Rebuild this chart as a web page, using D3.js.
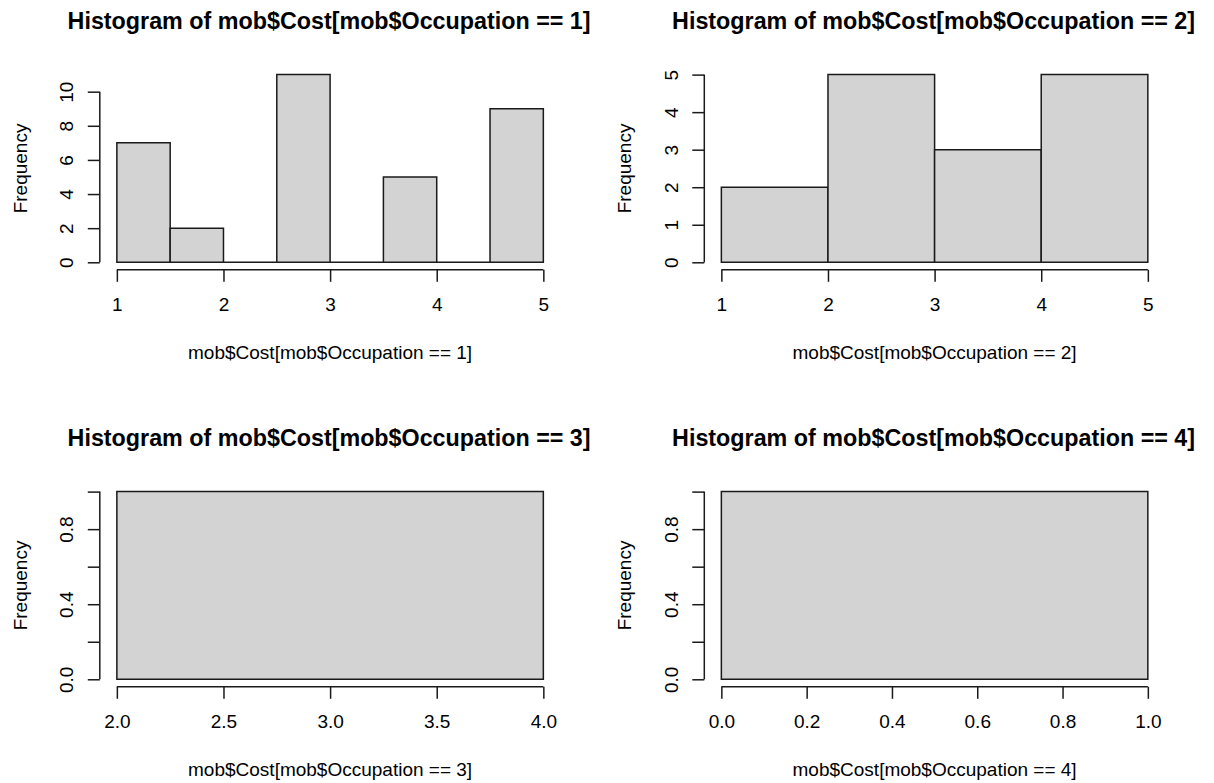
<!DOCTYPE html>
<html>
<head>
<meta charset="utf-8">
<script src="https://cdn.jsdelivr.net/npm/d3@7"></script>
<style>
  html, body { margin: 0; padding: 0; background: #fff; }
  svg { display: block; }
  text { font-family: "Liberation Sans", Arial, sans-serif; fill: #000; }
</style>
</head>
<body>
<svg id="chart" width="1214" height="783"></svg>
<script>
// Histogram bins (breaks) and counts for each occupation group
const breaks1 = [1, 1.5, 2, 2.5, 3, 3.5, 4, 4.5, 5];
const counts1 = [7, 2, 0, 11, 0, 5, 0, 9];
const xTicks1 = [1, 2, 3, 4, 5];
const yTicks1 = [0, 2, 4, 6, 8, 10];
const yLabels1 = ["0", "2", "4", "6", "8", "10"];

const breaks2 = [1, 2, 3, 4, 5];
const counts2 = [2, 5, 3, 5];
const xTicks2 = [1, 2, 3, 4, 5];
const yTicks2 = [0, 1, 2, 3, 4, 5];
const yLabels2 = ["0", "1", "2", "3", "4", "5"];

const breaks3 = [2, 4];
const counts3 = [1];
const xTicks3 = [2.0, 2.5, 3.0, 3.5, 4.0];
const xLabels3 = ["2.0", "2.5", "3.0", "3.5", "4.0"];
const yTicks3 = [0, 0.2, 0.4, 0.6, 0.8, 1.0];
const yLabels3 = ["0.0", "", "0.4", "", "0.8", ""];

const breaks4 = [0, 1];
const counts4 = [1];
const xTicks4 = [0, 0.2, 0.4, 0.6, 0.8, 1.0];
const xLabels4 = ["0.0", "0.2", "0.4", "0.6", "0.8", "1.0"];
const yTicks4 = [0, 0.2, 0.4, 0.6, 0.8, 1.0];
const yLabels4 = ["0.0", "", "0.4", "", "0.8", ""];

const titles = [
  "Histogram of mob$Cost[mob$Occupation == 1]",
  "Histogram of mob$Cost[mob$Occupation == 2]",
  "Histogram of mob$Cost[mob$Occupation == 3]",
  "Histogram of mob$Cost[mob$Occupation == 4]"
];
const xAxisLabels = [
  "mob$Cost[mob$Occupation == 1]",
  "mob$Cost[mob$Occupation == 2]",
  "mob$Cost[mob$Occupation == 3]",
  "mob$Cost[mob$Occupation == 4]"
];

const panels = [
  { breaks: breaks1, counts: counts1, xTicks: xTicks1, xLabels: xTicks1.map(String), yTicks: yTicks1, yLabels: yLabels1 },
  { breaks: breaks2, counts: counts2, xTicks: xTicks2, xLabels: xTicks2.map(String), yTicks: yTicks2, yLabels: yLabels2 },
  { breaks: breaks3, counts: counts3, xTicks: xTicks3, xLabels: xLabels3, yTicks: yTicks3, yLabels: yLabels3 },
  { breaks: breaks4, counts: counts4, xTicks: xTicks4, xLabels: xLabels4, yTicks: yTicks4, yLabels: yLabels4 }
];

// 2x2 grid layout: plot region inside each cell
const colOffset = [0, 604.5];
const rowOffset = [0, 417];
const plotBox = { left: 99.8, right: 560.4, top: 67.1, bottom: 269.8 };
const tickLen = 12;
const lineColor = "#1a1a1a";
const lineWidth = 1.5;
const labelSize = "19px";

const svg = d3.select("#chart");

// R-style axis range: extend data range by 4% on both sides
function padded(lo, hi) {
  const r = hi - lo;
  return [lo - 0.04 * r, hi + 0.04 * r];
}

panels.forEach((p, i) => {
  const ox = colOffset[i % 2], oy = rowOffset[Math.floor(i / 2)];
  const L = ox + plotBox.left, R = ox + plotBox.right;
  const T = oy + plotBox.top, B = oy + plotBox.bottom;

  const xs = d3.scaleLinear()
    .domain(padded(p.breaks[0], p.breaks[p.breaks.length - 1]))
    .range([L, R]);
  const ys = d3.scaleLinear()
    .domain(padded(0, d3.max(p.counts)))
    .range([B, T]);

  const g = svg.append("g");

  // bars (zero counts collapse to a line along the baseline)
  const bins = p.counts.map((c, k) => ({ x0: p.breaks[k], x1: p.breaks[k + 1], c }));
  g.selectAll("path.bar").data(bins).join("path")
    .attr("class", "bar")
    .attr("d", d => {
      const path = d3.path();
      path.rect(xs(d.x0), ys(d.c), xs(d.x1) - xs(d.x0), ys(0) - ys(d.c));
      return path.toString();
    })
    .attr("fill", "#d3d3d3")
    .attr("stroke", lineColor)
    .attr("stroke-width", lineWidth);

  // x axis
  const xAxis = d3.axisBottom(xs)
    .tickValues(p.xTicks)
    .tickSize(tickLen)
    .tickFormat((d, k) => p.xLabels[k]);
  const gx = g.append("g").attr("transform", `translate(0,${B})`).call(xAxis);
  gx.select(".domain").remove();
  gx.append("line")
    .attr("x1", xs(p.xTicks[0])).attr("x2", xs(p.xTicks[p.xTicks.length - 1]))
    .attr("y1", 0).attr("y2", 0)
    .attr("stroke", lineColor).attr("stroke-width", lineWidth);
  gx.selectAll(".tick line").attr("stroke", lineColor).attr("stroke-width", lineWidth);
  gx.selectAll(".tick text")
    .attr("y", 41).attr("dy", null)
    .attr("font-size", labelSize)
    .attr("font-family", "Liberation Sans, Arial, sans-serif")
    .attr("fill", "#000");

  // y axis (labels rotated, reading upward)
  const yAxis = d3.axisLeft(ys)
    .tickValues(p.yTicks)
    .tickSize(tickLen)
    .tickFormat((d, k) => p.yLabels[k]);
  const gy = g.append("g").attr("transform", `translate(${L},0)`).call(yAxis);
  gy.select(".domain").remove();
  gy.append("line")
    .attr("x1", 0).attr("x2", 0)
    .attr("y1", ys(p.yTicks[0])).attr("y2", ys(p.yTicks[p.yTicks.length - 1]))
    .attr("stroke", lineColor).attr("stroke-width", lineWidth);
  gy.selectAll(".tick line").attr("stroke", lineColor).attr("stroke-width", lineWidth);
  gy.selectAll(".tick text")
    .attr("x", null).attr("dy", null)
    .attr("transform", "translate(-26.5,0) rotate(-90)")
    .attr("text-anchor", "middle")
    .attr("font-size", labelSize)
    .attr("font-family", "Liberation Sans, Arial, sans-serif")
    .attr("fill", "#000");

  // title
  g.append("text")
    .attr("x", (L + R) / 2 - 1).attr("y", T - 38)
    .attr("text-anchor", "middle")
    .attr("font-size", "23.3px")
    .attr("font-weight", "bold")
    .text(titles[i]);

  // x axis label
  g.append("text")
    .attr("x", (L + R) / 2).attr("y", B + 89)
    .attr("text-anchor", "middle")
    .attr("font-size", labelSize)
    .text(xAxisLabels[i]);

  // y axis label
  g.append("text")
    .attr("transform", `translate(${L - 73},${(T + B) / 2}) rotate(-90)`)
    .attr("text-anchor", "middle")
    .attr("font-size", labelSize)
    .text("Frequency");
});
</script>
</body>
</html>
